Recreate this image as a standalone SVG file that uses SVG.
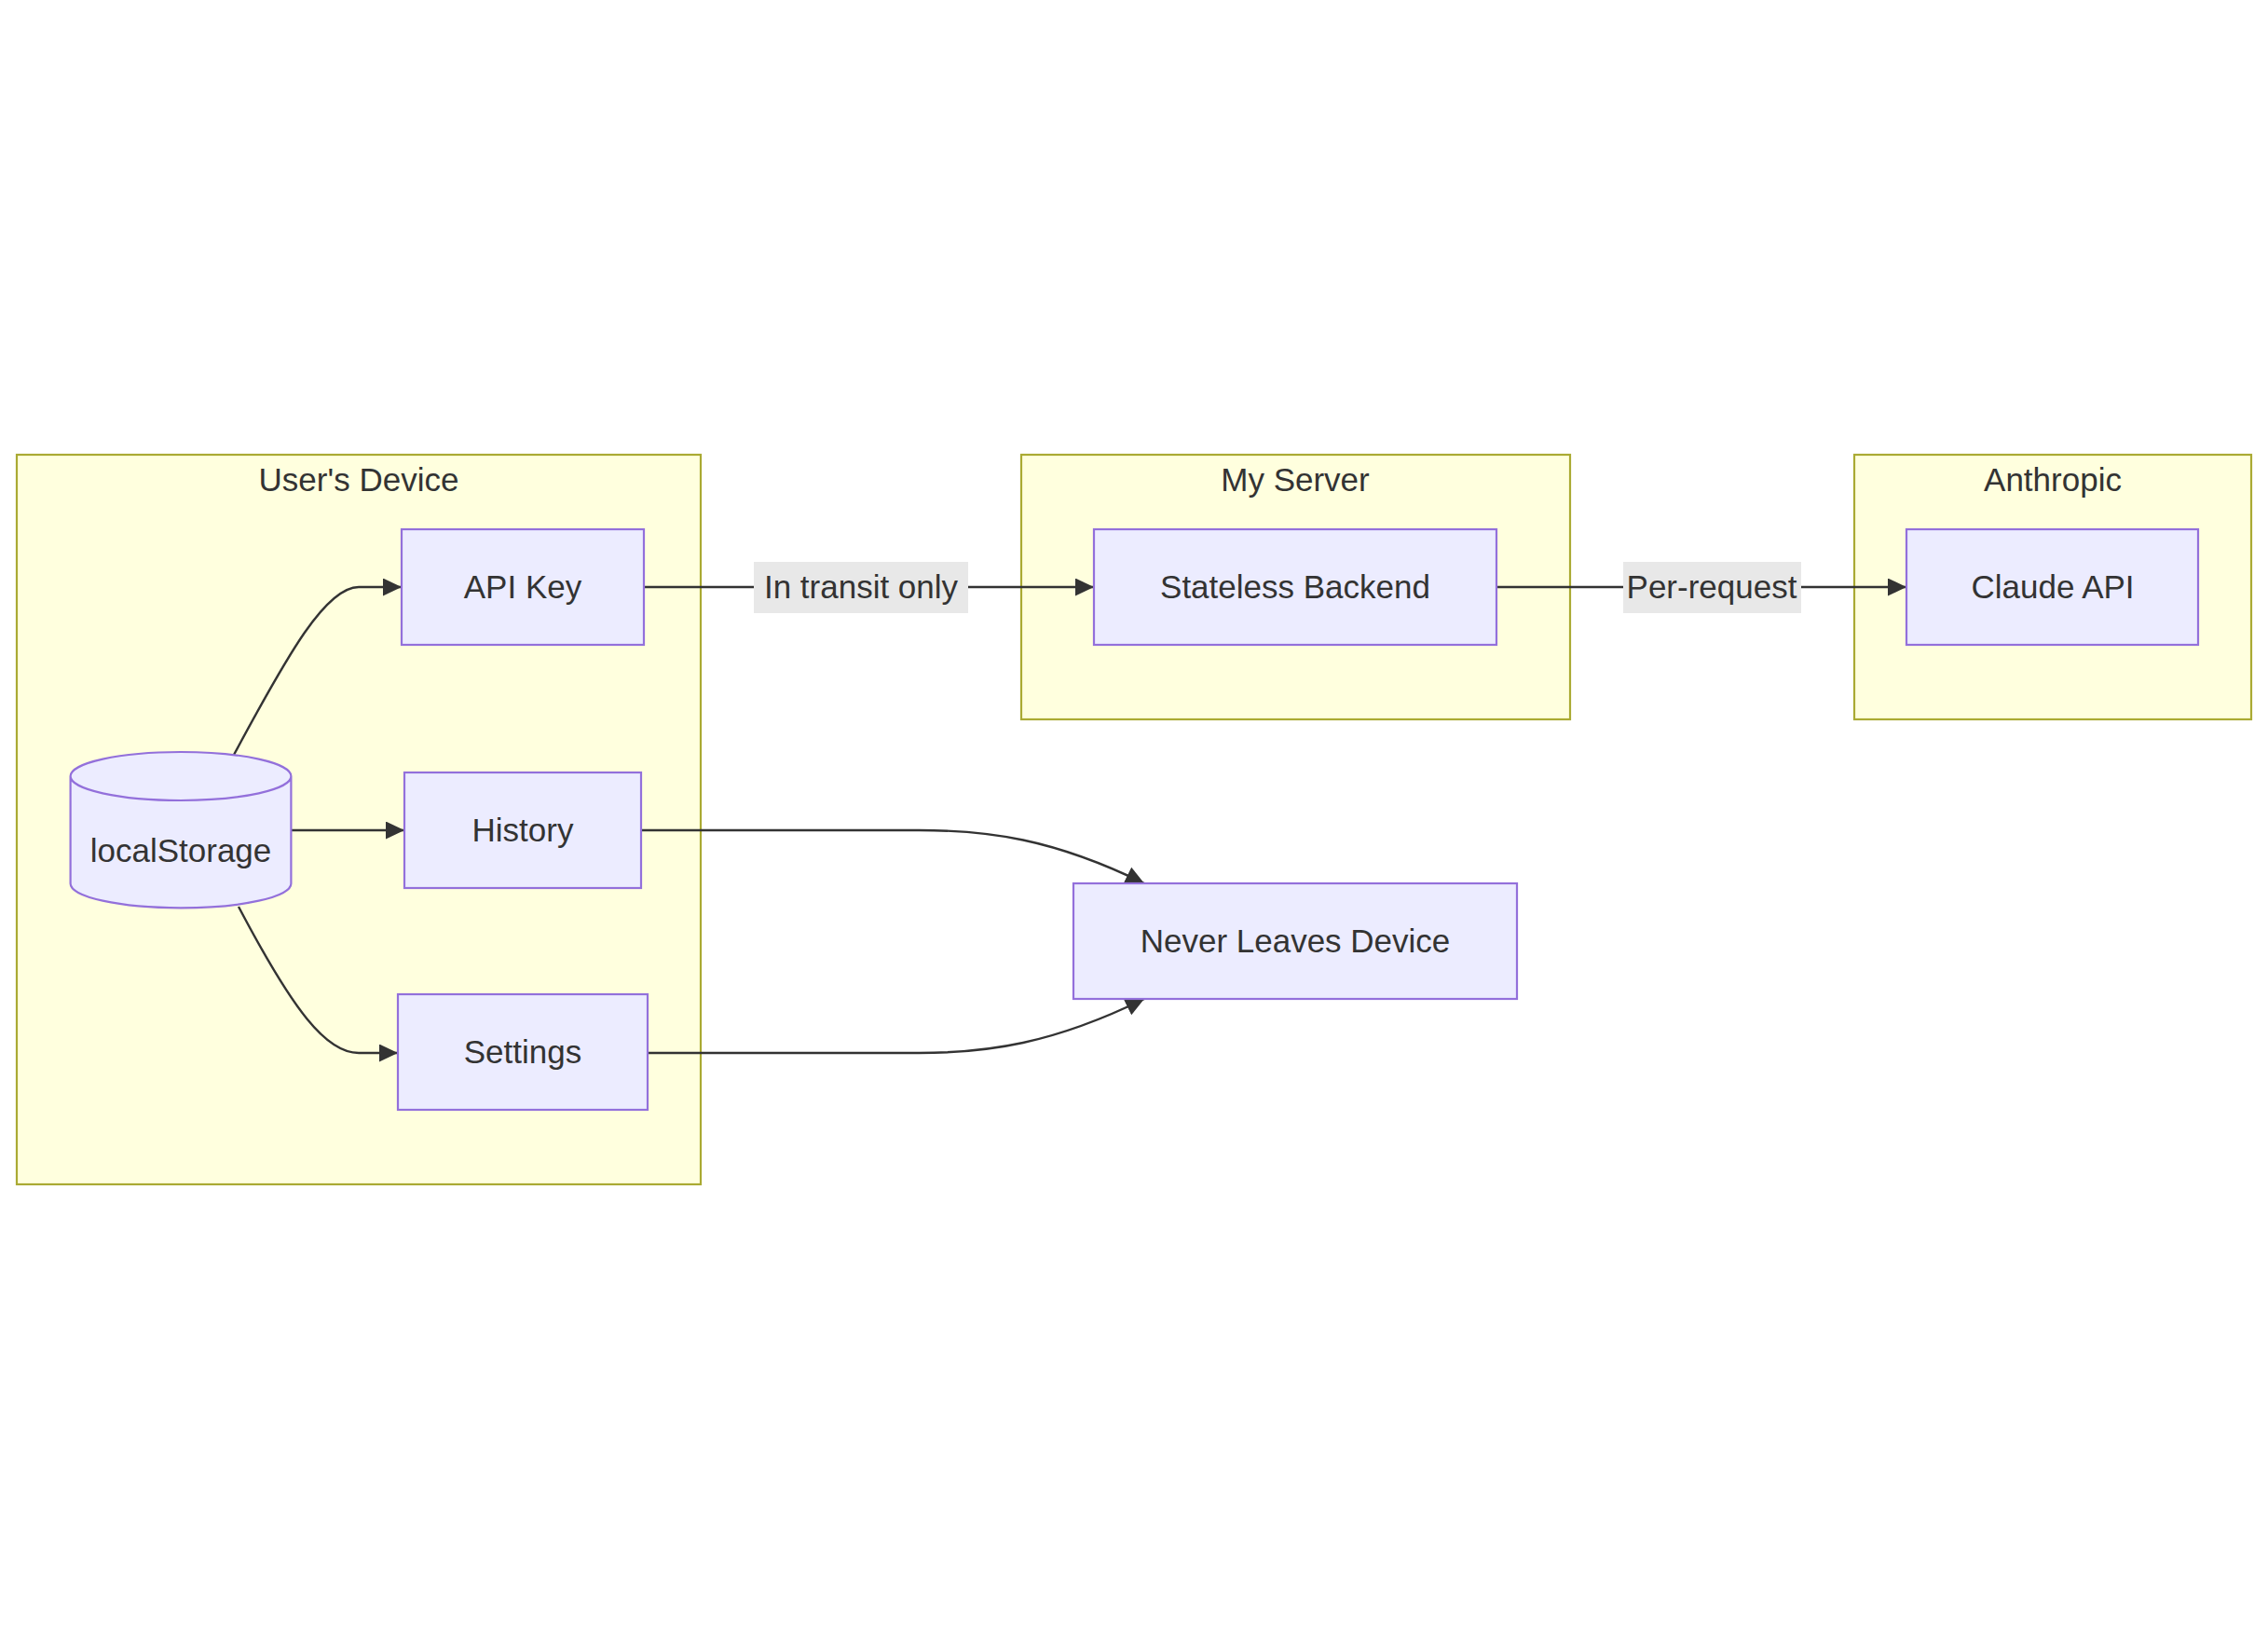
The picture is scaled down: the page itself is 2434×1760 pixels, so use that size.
<svg xmlns="http://www.w3.org/2000/svg" width="2434" height="1760" viewBox="0 0 2434 1760">
<style>
  text { font-family: "Liberation Sans", Arial, sans-serif; font-size: 35px; fill: #333333; text-anchor: middle; }
  .cluster { fill: #ffffde; stroke: #aaaa33; stroke-width: 2.2; }
  .node { fill: #ececff; stroke: #9370db; stroke-width: 2.2; }
  .edge { fill: none; stroke: #333333; stroke-width: 2.4; }
  .lbl { fill: #e8e8e8; }
</style>
<defs>
  <marker id="arrow" markerUnits="userSpaceOnUse" markerWidth="20" markerHeight="19" refX="20" refY="9.5" orient="auto">
    <path d="M0,0 L20,9.5 L0,19 z" fill="#333333"/>
  </marker>
</defs>
<rect width="2434" height="1760" fill="#ffffff"/>

<g id="cluster-users-device">
  <rect class="cluster" x="18" y="488" width="734" height="783"/>
  <text x="385" y="527">User's Device</text>
</g>
<g id="cluster-my-server">
  <rect class="cluster" x="1096" y="488" width="589" height="284"/>
  <text x="1390" y="527">My Server</text>
</g>
<g id="cluster-anthropic">
  <rect class="cluster" x="1990" y="488" width="426" height="284"/>
  <text x="2203" y="527">Anthropic</text>
</g>

<g id="connectors">
  <path class="edge" d="M251,810 C310,700 350,630 385,630 L431,630" marker-end="url(#arrow)"/>
  <path class="edge" d="M312,891 L434,891" marker-end="url(#arrow)"/>
  <path class="edge" d="M256,973 C315,1085 350,1130 385,1130 L427,1130" marker-end="url(#arrow)"/>
  <path class="edge" d="M691,630 L1174,630" marker-end="url(#arrow)"/>
  <path class="edge" d="M1606,630 L2046,630" marker-end="url(#arrow)"/>
  <path class="edge" d="M688,891 L986,891 C1060,891 1130,900 1228,948" marker-end="url(#arrow)"/>
  <path class="edge" d="M695,1130 L986,1130 C1060,1130 1130,1120 1228,1072" marker-end="url(#arrow)"/>
  <g id="label-in-transit">
    <rect class="lbl" x="809" y="603" width="230" height="55"/>
    <text x="924" y="642">In transit only</text>
  </g>
  <g id="label-per-request">
    <rect class="lbl" x="1742" y="603" width="191" height="55"/>
    <text x="1837" y="642">Per-request</text>
  </g>
</g>

<g id="node-localStorage">
  <path class="node" d="M75.6,833 a118.4,26 0 0,0 236.8,0 a118.4,26 0 0,0 -236.8,0 l0,115.3 a118.4,26 0 0,0 236.8,0 l0,-115.3"/>
  <text x="194" y="925">localStorage</text>
</g>
<g id="node-api-key">
  <rect class="node" x="431" y="568" width="260" height="124"/>
  <text x="561" y="642">API Key</text>
</g>
<g id="node-history">
  <rect class="node" x="434" y="829" width="254" height="124"/>
  <text x="561" y="903">History</text>
</g>
<g id="node-settings">
  <rect class="node" x="427" y="1067" width="268" height="124"/>
  <text x="561" y="1141">Settings</text>
</g>
<g id="node-stateless-backend">
  <rect class="node" x="1174" y="568" width="432" height="124"/>
  <text x="1390" y="642">Stateless Backend</text>
</g>
<g id="node-claude-api">
  <rect class="node" x="2046" y="568" width="313" height="124"/>
  <text x="2203" y="642">Claude API</text>
</g>
<g id="node-never-leaves">
  <rect class="node" x="1152" y="948" width="476" height="124"/>
  <text x="1390" y="1022">Never Leaves Device</text>
</g>
</svg>
